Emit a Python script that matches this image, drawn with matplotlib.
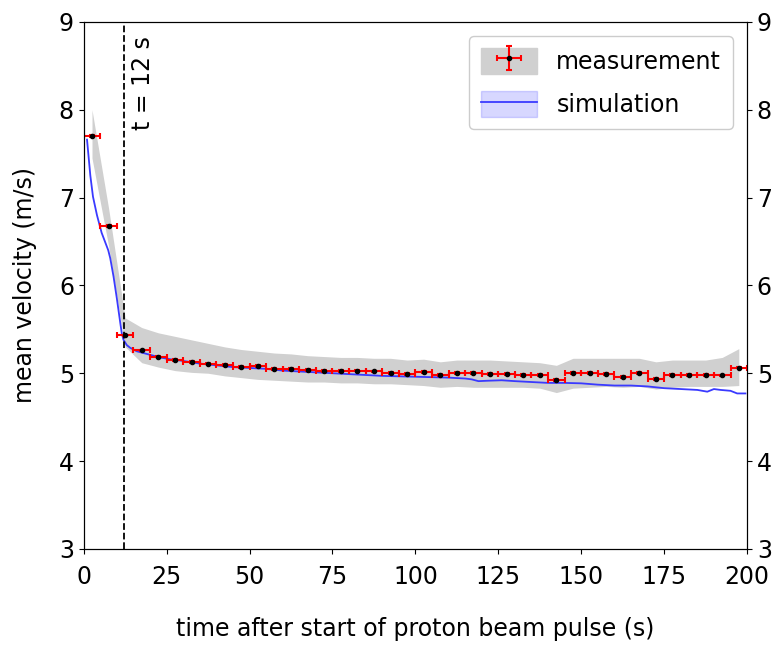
import numpy as np
import matplotlib
matplotlib.use("Agg")
import matplotlib.pyplot as plt
from matplotlib.patches import Patch

# measurement: 5 s bins
t_meas = np.arange(2.5, 200, 5.0)
v_meas = [7.70, 6.68, 5.43, 5.26, 5.19, 5.15, 5.13, 5.11, 5.095, 5.075,
          5.085, 5.046, 5.046, 5.04, 5.027, 5.027, 5.03, 5.02, 5.00, 4.99,
          5.01, 4.98, 5.00, 5.00, 4.99, 4.99, 4.98, 4.98, 4.92, 5.00,
          5.00, 4.99, 4.96, 5.00, 4.935, 4.98, 4.98, 4.98, 4.975, 5.065]
band_hi = [8.00, 6.88, 5.63, 5.52, 5.46, 5.42, 5.38, 5.34, 5.30, 5.27,
           5.25, 5.23, 5.22, 5.20, 5.19, 5.18, 5.18, 5.17, 5.17, 5.15,
           5.16, 5.13, 5.15, 5.15, 5.15, 5.14, 5.13, 5.12, 5.09, 5.17,
           5.17, 5.17, 5.17, 5.17, 5.13, 5.15, 5.15, 5.15, 5.18, 5.28]
band_lo = [7.45, 6.45, 5.30, 5.12, 5.07, 5.03, 5.01, 5.00, 4.97, 4.95,
           4.93, 4.92, 4.91, 4.90, 4.90, 4.89, 4.89, 4.88, 4.88, 4.87,
           4.86, 4.84, 4.85, 4.84, 4.84, 4.84, 4.84, 4.83, 4.78, 4.83,
           4.84, 4.85, 4.84, 4.85, 4.82, 4.84, 4.85, 4.85, 4.85, 4.86]

# simulation
t_sim = [1, 2, 2.8, 4, 5.4, 7.4, 8, 9, 10, 11, 11.5, 12, 13, 14, 16, 18, 20,
         23, 26, 30, 35, 40, 45, 50, 55, 60, 65, 70, 75, 80, 85, 90, 95, 100,
         105, 110, 115, 117, 119, 122, 126, 130, 135, 140, 145, 150, 155, 160,
         165, 170, 175, 180, 185, 188, 190, 192, 195, 197, 199.5]
v_sim = [7.66, 7.25, 7.01, 6.80, 6.60, 6.40, 6.31, 6.10, 5.85, 5.58, 5.45,
         5.38, 5.32, 5.29, 5.25, 5.23, 5.21, 5.18, 5.16, 5.14, 5.11, 5.09,
         5.07, 5.06, 5.05, 5.03, 5.02, 5.01, 5.00, 4.99, 4.98, 4.97, 4.965,
         4.96, 4.955, 4.95, 4.94, 4.93, 4.91, 4.915, 4.92, 4.91, 4.90, 4.89,
         4.89, 4.885, 4.87, 4.86, 4.86, 4.85, 4.83, 4.82, 4.81, 4.79, 4.82,
         4.81, 4.80, 4.77, 4.77]

t_mark = 12
fs = 17
blue = "#3a3aff"
grey = "#d0d0d0"

fig = plt.figure(figsize=(7.75, 6.45), dpi=100)
ax = fig.add_axes([0.108, 0.149, 0.856, 0.817])

ax.fill_between(t_meas, band_lo, band_hi, color=grey, lw=0)
ax.plot(t_sim, v_sim, color=blue, lw=1.3)
eb = ax.errorbar(t_meas, v_meas, xerr=2.5, yerr=0.01, fmt="o", color="black",
                 ms=3, ecolor="red", elinewidth=1.5, capsize=2.5, capthick=1.5)
ax.axvline(t_mark, color="black", ls="--", lw=1.3)
ax.text(t_mark + 2.4, 8.84, "t = 12 s", rotation=90, ha="left", va="top",
        fontsize=fs)

ax.set_xlim(0, 200)
ax.set_ylim(3, 9)
ax.set_xticks(np.arange(0, 201, 25))
ax.set_yticks(np.arange(3, 10, 1))
ax.tick_params(labelsize=fs)
ax.tick_params(axis="x", pad=8)
ax.set_xlabel("time after start of proton beam pulse (s)", fontsize=fs, labelpad=20)
ax.set_ylabel("mean velocity (m/s)", fontsize=fs, labelpad=16)

ax2 = ax.twinx()
ax2.set_ylim(3, 9)
ax2.set_yticks(np.arange(3, 10, 1))
ax2.tick_params(labelsize=fs)

h_meas = (Patch(color=grey), eb)
h_sim = (Patch(color=blue, alpha=0.2), plt.Line2D([], [], color=blue, lw=1.3))
ax.legend([h_meas, h_sim], ["measurement", "simulation"], loc="upper right",
          fontsize=fs, framealpha=1, handlelength=2.4, handleheight=1.3,
          labelspacing=0.75, borderaxespad=0.6, borderpad=0.5)

fig.savefig("out.png", dpi=100)
